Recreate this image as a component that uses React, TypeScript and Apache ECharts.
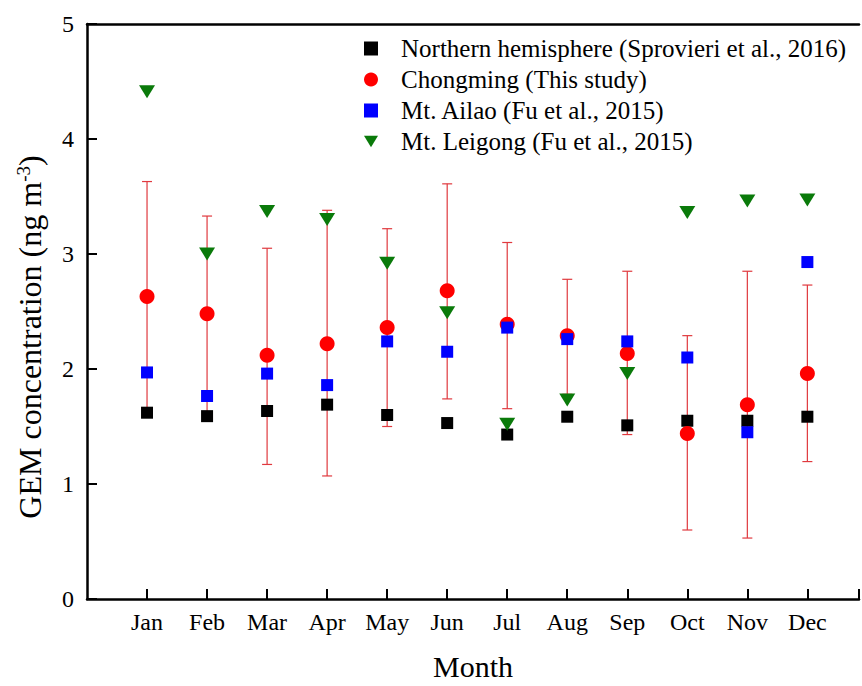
import React, { useEffect, useRef } from "react";
import * as echarts from "echarts";

const months = ["Jan", "Feb", "Mar", "Apr", "May", "Jun", "Jul", "Aug", "Sep", "Oct", "Nov", "Dec"];
const northern = [1.62, 1.59, 1.635, 1.69, 1.6, 1.53, 1.43, 1.585, 1.51, 1.55, 1.55, 1.585];
const chongming = [2.63, 2.48, 2.12, 2.22, 2.36, 2.68, 2.39, 2.29, 2.135, 1.44, 1.69, 1.96];
const chongmingLow = [1.65, 1.63, 1.17, 1.07, 1.5, 1.74, 1.655, 1.78, 1.43, 0.6, 0.53, 1.195];
const chongmingHigh = [3.63, 3.33, 3.05, 3.38, 3.22, 3.61, 3.1, 2.78, 2.85, 2.29, 2.85, 2.73];
const ailao = [1.97, 1.765, 1.96, 1.86, 2.24, 2.15, 2.36, 2.26, 2.24, 2.1, 1.45, 2.93];
const leigong = [4.41, 3.0, 3.37, 3.3, 2.92, 2.49, 1.52, 1.73, 1.96, 3.36, 3.46, 3.47];
const seriesNames = [
  "Northern hemisphere (Sprovieri et al., 2016)",
  "Chongming (This study)",
  "Mt. Ailao (Fu et al., 2015)",
  "Mt. Leigong (Fu et al., 2015)",
];
const yTitle = ["GEM concentration (ng m", "-3", ")"];
const xTitle = "Month";

const FONT = "'Liberation Serif', 'Times New Roman', serif";
const TRI = "path://M0,0 L16,0 L8,13 Z";

export default function App() {
  const ref = useRef<HTMLDivElement>(null);
  useEffect(() => {
    if (!ref.current) return;
    const chart = echarts.init(ref.current, undefined, { renderer: "svg" });
    const pts = (arr: number[]) => arr.map((v, i) => [i + 1, v]);
    const errData = months.map((_, i) => [i + 1, chongmingLow[i], chongmingHigh[i]]);
    const axisLine = { show: true, lineStyle: { color: "#000", width: 2.5 } };
    chart.setOption({
      animation: false,
      backgroundColor: "#fff",
      grid: { left: 87, top: 24, right: 0, bottom: 86 },
      legend: {
        orient: "vertical",
        left: 359,
        top: 31,
        itemGap: 6,
        itemWidth: 14,
        itemHeight: 14,
        textStyle: {
          fontFamily: FONT,
          fontSize: 25,
          lineHeight: 25,
          color: "#000",
          padding: [0, 0, 0, 18],
        },
        data: [
          { name: seriesNames[0], icon: "rect" },
          { name: seriesNames[1], icon: "circle" },
          { name: seriesNames[2], icon: "rect" },
          { name: seriesNames[3], icon: TRI },
        ],
      },
      graphic: [
        {
          type: "text",
          x: 30,
          y: 337,
          rotation: Math.PI / 2,
          style: {
            text: `{a|${yTitle[0]}}{b|${yTitle[1]}}{a|${yTitle[2]}}`,
            align: "center",
            verticalAlign: "middle",
            rich: {
              a: { fontFamily: FONT, fontSize: 32, fill: "#000" } as any,
              b: { fontFamily: FONT, fontSize: 19, fill: "#000", padding: [0, 0, 14, 0] } as any,
            },
          },
        },
      ],
      xAxis: [
        {
          type: "value",
          min: 0,
          max: 12.86,
          interval: 1,
          position: "bottom",
          axisLine,
          axisTick: { show: true, inside: true, length: 10, lineStyle: { color: "#000", width: 2 } },
          splitLine: { show: false },
          axisLabel: {
            fontFamily: FONT,
            fontSize: 24,
            color: "#000",
            margin: 11,
            showMinLabel: false,
            formatter: (v: number) => (Number.isInteger(v) && v >= 1 && v <= 12 ? months[v - 1] : ""),
          },
          name: xTitle,
          nameLocation: "middle",
          nameGap: 52,
          nameTextStyle: { fontFamily: FONT, fontSize: 30, color: "#000" },
        },
        {
          type: "value",
          min: 0,
          max: 12.86,
          position: "top",
          axisLine,
          axisTick: { show: false },
          axisLabel: { show: false },
          splitLine: { show: false },
        },
      ],
      yAxis: {
        type: "value",
        min: 0,
        max: 5,
        interval: 1,
        axisLine,
        axisTick: { show: true, inside: true, length: 10, lineStyle: { color: "#000", width: 2 } },
        splitLine: { show: false },
        axisLabel: { fontFamily: FONT, fontSize: 24, color: "#000", margin: 13 },
      },
      series: [
        {
          type: "custom",
          name: "err",
          z: 1,
          renderItem: (params: any, api: any) => {
            const x = api.value(0);
            const lo = api.coord([x, api.value(1)]);
            const hi = api.coord([x, api.value(2)]);
            const w = 5;
            const style = { stroke: "#e0393e", lineWidth: 1.2 };
            return {
              type: "group",
              children: [
                { type: "line", shape: { x1: hi[0], y1: hi[1], x2: lo[0], y2: lo[1] }, style },
                { type: "line", shape: { x1: hi[0] - w, y1: hi[1], x2: hi[0] + w, y2: hi[1] }, style },
                { type: "line", shape: { x1: lo[0] - w, y1: lo[1], x2: lo[0] + w, y2: lo[1] }, style },
              ],
            };
          },
          data: errData,
          silent: true,
        },
        {
          type: "scatter",
          name: seriesNames[0],
          z: 3,
          symbol: "rect",
          symbolSize: 12,
          itemStyle: { color: "#000", opacity: 1 },
          data: pts(northern),
        },
        {
          type: "scatter",
          name: seriesNames[1],
          z: 4,
          symbol: "circle",
          symbolSize: 15,
          itemStyle: { color: "#ff0000", opacity: 1 },
          data: pts(chongming),
        },
        {
          type: "scatter",
          name: seriesNames[2],
          z: 5,
          symbol: "rect",
          symbolSize: 12,
          itemStyle: { color: "#0000ff", opacity: 1 },
          data: pts(ailao),
        },
        {
          type: "scatter",
          name: seriesNames[3],
          z: 6,
          symbol: TRI,
          symbolSize: [16, 13],
          itemStyle: { color: "#0a7a0a", opacity: 1 },
          data: pts(leigong),
        },
      ],
    });
    return () => chart.dispose();
  }, []);
  return (
    <div
      ref={ref}
      style={{ position: "absolute", left: 0, top: 0, width: 862, height: 686, background: "#fff" }}
    />
  );
}
